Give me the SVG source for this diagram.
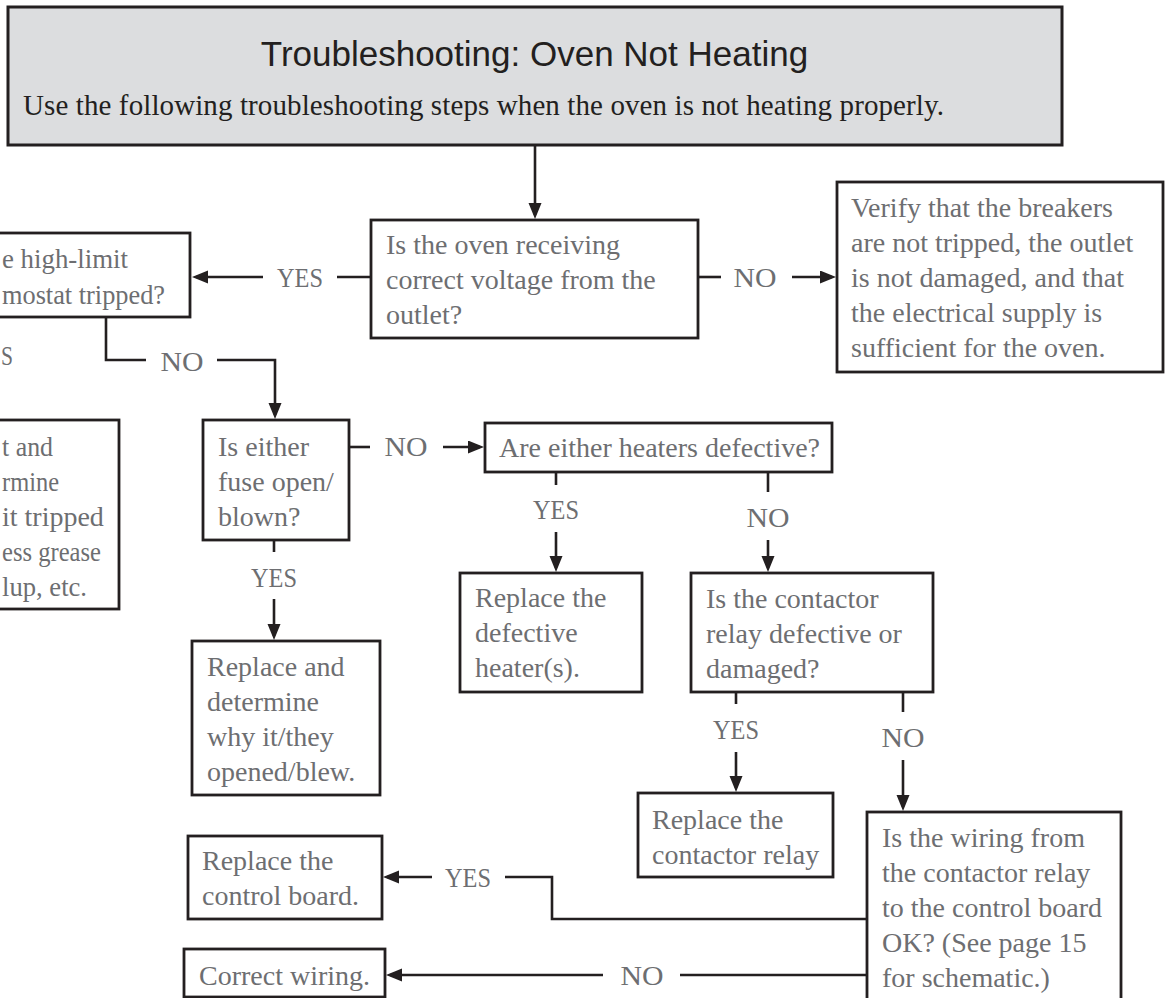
<svg xmlns="http://www.w3.org/2000/svg" width="1165" height="998" viewBox="0 0 1165 998">
<style>
.box{fill:#ffffff;stroke:#231f20;stroke-width:2.8}
.hdr{fill:#dcdddf;stroke:#231f20;stroke-width:3}
.t{font-family:"Liberation Serif",serif;font-size:28px;fill:#6d6e71}
.lbl{font-family:"Liberation Serif",serif;font-size:28px;fill:#6d6e71;text-anchor:middle}
.conn path{fill:none;stroke:#231f20;stroke-width:2.6}
</style>
<defs>
<marker id="ah" markerUnits="userSpaceOnUse" markerWidth="18" markerHeight="14" refX="12" refY="6.5" orient="auto">
<path d="M0,0 L16,6.5 L0,13 Z" fill="#231f20"/>
</marker>
</defs>
<rect width="1165" height="998" fill="#ffffff"/>

<g id="header">
<rect class="hdr" x="8" y="7" width="1054" height="138"/>
<text x="534.5" y="66" text-anchor="middle" font-family="'Liberation Sans',Arial,sans-serif" font-size="35" fill="#231f20">Troubleshooting: Oven Not Heating</text>
<text x="23" y="115" font-family="'Liberation Serif',serif" font-size="29" fill="#231f20" textLength="921" lengthAdjust="spacing">Use the following troubleshooting steps when the oven is not heating properly.</text>
</g>

<g id="oven">
<rect class="box" x="371" y="220" width="327" height="118"/>
<text class="t" x="386" y="254">Is the oven receiving</text>
<text class="t" x="386" y="289">correct voltage from the</text>
<text class="t" x="386" y="324">outlet?</text>
</g>

<g id="verify">
<rect class="box" x="837" y="182" width="326" height="190"/>
<text class="t" x="851" y="217">Verify that the breakers</text>
<text class="t" x="851" y="252">are not tripped, the outlet</text>
<text class="t" x="851" y="287">is not damaged, and that</text>
<text class="t" x="851" y="322">the electrical supply is</text>
<text class="t" x="851" y="357">sufficient for the oven.</text>
</g>

<g id="highlimit">
<rect class="box" x="-100" y="233" width="290" height="84"/>
<text class="t" x="2" y="268" textLength="126" lengthAdjust="spacingAndGlyphs">e high-limit</text>
<text class="t" x="2" y="304" textLength="163" lengthAdjust="spacingAndGlyphs">mostat tripped?</text>
</g>

<g id="reset">
<rect class="box" x="-150" y="420" width="269" height="189"/>
<text class="t" x="2" y="456" textLength="51" lengthAdjust="spacingAndGlyphs">t and</text>
<text class="t" x="2" y="491" textLength="57" lengthAdjust="spacingAndGlyphs">rmine</text>
<text class="t" x="2" y="526">it tripped</text>
<text class="t" x="2" y="561" textLength="99" lengthAdjust="spacingAndGlyphs">ess grease</text>
<text class="t" x="2" y="596" textLength="85" lengthAdjust="spacingAndGlyphs">lup, etc.</text>
</g>

<g id="fuse">
<rect class="box" x="203" y="420" width="146" height="120"/>
<text class="t" x="218" y="456">Is either</text>
<text class="t" x="218" y="491">fuse open/</text>
<text class="t" x="218" y="526">blown?</text>
</g>

<g id="replacefuse">
<rect class="box" x="192" y="641" width="188" height="154"/>
<text class="t" x="207" y="676">Replace and</text>
<text class="t" x="207" y="711">determine</text>
<text class="t" x="207" y="746">why it/they</text>
<text class="t" x="207" y="781">opened/blew.</text>
</g>

<g id="heaters">
<rect class="box" x="485" y="423" width="347" height="49"/>
<text class="t" x="499" y="457">Are either heaters defective?</text>
</g>

<g id="replaceheater">
<rect class="box" x="460" y="573" width="182" height="119"/>
<text class="t" x="475" y="607">Replace the</text>
<text class="t" x="475" y="642">defective</text>
<text class="t" x="475" y="677">heater(s).</text>
</g>

<g id="contactor">
<rect class="box" x="691" y="573" width="242" height="119"/>
<text class="t" x="706" y="608">Is the contactor</text>
<text class="t" x="706" y="643">relay defective or</text>
<text class="t" x="706" y="678">damaged?</text>
</g>

<g id="replacerelay">
<rect class="box" x="638" y="793" width="195" height="84"/>
<text class="t" x="652" y="829">Replace the</text>
<text class="t" x="652" y="864">contactor relay</text>
</g>

<g id="wiring">
<rect class="box" x="867" y="812" width="254" height="200"/>
<text class="t" x="882" y="847">Is the wiring from</text>
<text class="t" x="882" y="882">the contactor relay</text>
<text class="t" x="882" y="917">to the control board</text>
<text class="t" x="882" y="952">OK? (See page 15</text>
<text class="t" x="882" y="987">for schematic.)</text>
</g>

<g id="controlboard">
<rect class="box" x="188" y="836" width="194" height="83"/>
<text class="t" x="202" y="870">Replace the</text>
<text class="t" x="202" y="905">control board.</text>
</g>

<g id="correctwiring">
<rect class="box" x="184" y="949" width="201" height="48"/>
<text class="t" x="199" y="985">Correct wiring.</text>
</g>

<g class="conn" id="connectors">
<path d="M535 145 V215" marker-end="url(#ah)"/>
<path d="M371 277 H337"/>
<path d="M263 277 H196" marker-end="url(#ah)"/>
<path d="M698 277 H721"/>
<path d="M792 277 H832" marker-end="url(#ah)"/>
<path d="M106 317 V360 H146"/>
<path d="M217 360 H275 V415" marker-end="url(#ah)"/>
<path d="M349 447 H370"/>
<path d="M443 447 H480" marker-end="url(#ah)"/>
<path d="M274 540 V552"/>
<path d="M274 599 V636" marker-end="url(#ah)"/>
<path d="M556 472 V485"/>
<path d="M556 532 V568" marker-end="url(#ah)"/>
<path d="M768 472 V492"/>
<path d="M768 540 V568" marker-end="url(#ah)"/>
<path d="M736 692 V704"/>
<path d="M736 752 V788" marker-end="url(#ah)"/>
<path d="M903 692 V712"/>
<path d="M903 760 V807" marker-end="url(#ah)"/>
<path d="M867 919 H552 V877 H505"/>
<path d="M432 877 H387" marker-end="url(#ah)"/>
<path d="M867 975 H680"/>
<path d="M603 975 H390" marker-end="url(#ah)"/>
<text class="lbl" x="300" y="287" textLength="46" lengthAdjust="spacingAndGlyphs">YES</text>
<text class="lbl" x="755" y="287" textLength="43" lengthAdjust="spacingAndGlyphs">NO</text>
<text class="lbl" x="182" y="371" textLength="43" lengthAdjust="spacingAndGlyphs">NO</text>
<text class="t" x="1" y="365" textLength="12" lengthAdjust="spacingAndGlyphs">S</text>
<text class="lbl" x="406" y="456" textLength="43" lengthAdjust="spacingAndGlyphs">NO</text>
<text class="lbl" x="274" y="587" textLength="46" lengthAdjust="spacingAndGlyphs">YES</text>
<text class="lbl" x="556" y="519" textLength="46" lengthAdjust="spacingAndGlyphs">YES</text>
<text class="lbl" x="768" y="527" textLength="43" lengthAdjust="spacingAndGlyphs">NO</text>
<text class="lbl" x="736" y="739" textLength="46" lengthAdjust="spacingAndGlyphs">YES</text>
<text class="lbl" x="903" y="747" textLength="43" lengthAdjust="spacingAndGlyphs">NO</text>
<text class="lbl" x="468" y="887" textLength="46" lengthAdjust="spacingAndGlyphs">YES</text>
<text class="lbl" x="642" y="985" textLength="43" lengthAdjust="spacingAndGlyphs">NO</text>
</g>
</svg>
